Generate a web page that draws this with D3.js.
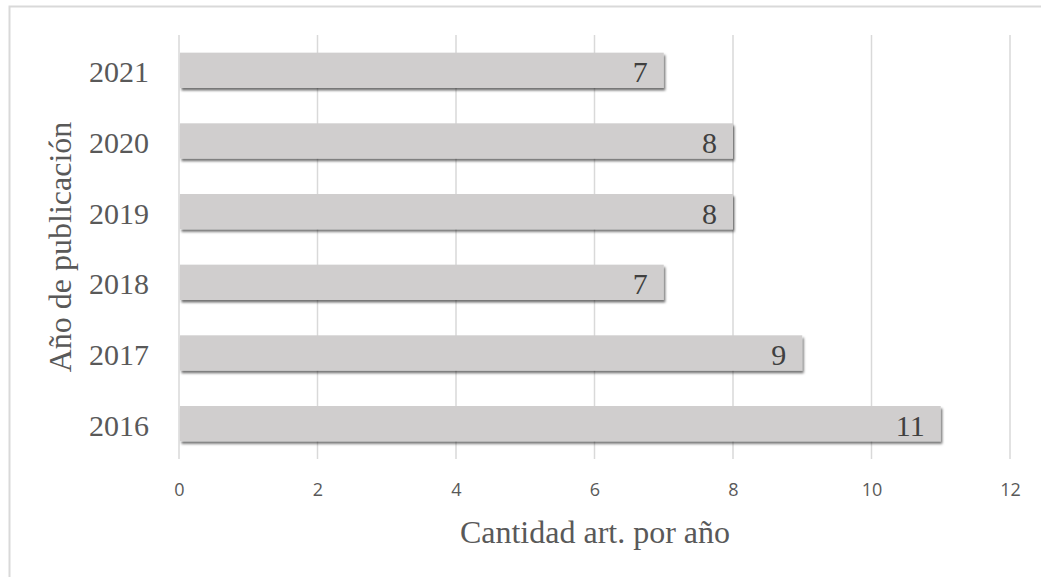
<!DOCTYPE html>
<html><head><meta charset="utf-8">
<script src="https://cdn.jsdelivr.net/npm/d3@7"></script>
<style>body{margin:0;background:#fff}</style>
</head><body>
<svg id="c" width="1041" height="577"></svg>
<script>
const years = ["2021","2020","2019","2018","2017","2016"];
const counts = [7, 8, 8, 7, 9, 11];
const xTicks = [0, 2, 4, 6, 8, 10, 12];
const xTitle = "Cantidad art. por año";
const yTitle = "Año de publicación";

const svg = d3.select("#c");
const W = 1041, H = 577;
const m = {left: 179, right: 31, top: 35, bottom: 118};
const x = d3.scaleLinear().domain([0, 12]).range([m.left, W - m.right]);
const y = d3.scaleBand().domain(years).range([m.top, H - m.bottom]).paddingInner(0.5).paddingOuter(0.25);

const defs = svg.append("defs");
const f = defs.append("filter").attr("id", "sh").attr("x", "-5%").attr("y", "-30%").attr("width", "110%").attr("height", "180%");
f.append("feDropShadow").attr("dx", 1.5).attr("dy", 2.5).attr("stdDeviation", 1.3).attr("flood-color", "#000").attr("flood-opacity", 0.55);

svg.append("rect").attr("x", 9.5).attr("y", 6.5).attr("width", 1040).attr("height", 600)
  .attr("fill", "#fff").attr("stroke", "#d9d9d9").attr("stroke-width", 2);

// gridlines
svg.append("g").selectAll("line").data(xTicks).join("line")
  .attr("x1", d => x(d)).attr("x2", d => x(d))
  .attr("y1", m.top).attr("y2", H - m.bottom)
  .attr("stroke", "#d9d9d9").attr("stroke-width", 1.5);

// x axis labels
const xAxis = d3.axisBottom(x).tickValues(xTicks).tickSize(0).tickPadding(0);
const gx = svg.append("g").attr("transform", `translate(0,${H - m.bottom + 24})`).call(xAxis);
gx.select(".domain").remove();
gx.selectAll("text").attr("fill", "#595959").attr("font-family", "Open Sans, sans-serif").attr("font-size", 18);

// bars
svg.append("g").selectAll("rect").data(years).join("rect")
  .attr("x", x(0) + 1).attr("y", d => y(d))
  .attr("width", (d, i) => x(counts[i]) - x(0) - 1).attr("height", y.bandwidth())
  .attr("fill", "#d0cece").attr("filter", "url(#sh)");

// value labels
svg.append("g").selectAll("text").data(years).join("text")
  .attr("x", (d, i) => x(counts[i]) - 16).attr("y", d => y(d) + y.bandwidth() / 2)
  .attr("dy", "0.4em").attr("text-anchor", "end")
  .attr("font-family", "Liberation Serif, Times New Roman, serif").attr("font-size", 30)
  .attr("fill", "#404040").text((d, i) => counts[i]);

// y axis labels
const yAxis = d3.axisLeft(y).tickSize(0).tickPadding(30);
const gy = svg.append("g").attr("transform", `translate(${m.left},0)`).call(yAxis);
gy.select(".domain").remove();
gy.selectAll("text").attr("fill", "#595959").attr("font-family", "Liberation Serif, Times New Roman, serif")
  .attr("font-size", 30).attr("dy", "0.4em");

// titles
svg.append("text").attr("x", 595).attr("y", 543).attr("text-anchor", "middle")
  .attr("font-family", "Liberation Serif, Times New Roman, serif").attr("font-size", 32)
  .attr("fill", "#595959").text(xTitle);
svg.append("text").attr("transform", "translate(71,247) rotate(-90)").attr("text-anchor", "middle")
  .attr("font-family", "Liberation Serif, Times New Roman, serif").attr("font-size", 32)
  .attr("fill", "#595959").text(yTitle);
</script>
</body></html>
